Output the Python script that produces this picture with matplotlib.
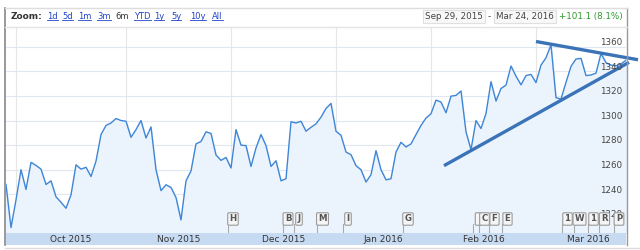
import numpy as np
import matplotlib
matplotlib.use("Agg")
import matplotlib.pyplot as plt
from matplotlib.lines import Line2D
from matplotlib.patches import Rectangle

# closing prices, one per trading day, Sep 29 2015 .. Mar 24 2016
values = [1248, 1213, 1235.5, 1260, 1244, 1266, 1263.5, 1260.5, 1248, 1251,
          1238, 1233.6, 1228.7, 1239.6, 1264, 1260.5, 1262, 1254.5, 1267, 1288.6,
          1296, 1298, 1301.6, 1300, 1299.4, 1286.4, 1292.6, 1300, 1285.8, 1294.8,
          1260, 1243, 1247.8, 1245.6, 1237.4, 1219.2, 1251, 1259, 1281, 1283,
          1290.8, 1289.5, 1272, 1267.6, 1270, 1261.4, 1292.6, 1280, 1279.6, 1262.7,
          1277.7, 1288.6, 1279.6, 1262.7, 1267.3, 1251, 1252.7, 1299, 1298, 1299.4,
          1291.3, 1294.5, 1297.3, 1302.7, 1309.8, 1313.9, 1291.3, 1288, 1274.4, 1272.2,
          1263.3, 1260, 1250, 1256, 1275.5, 1260, 1251.8, 1252.7, 1274.4, 1282.3,
          1278.5, 1281, 1288.6, 1296, 1302, 1305.5, 1316.6, 1315, 1306.3, 1319.8,
          1320.4, 1324, 1290.8, 1276.3, 1300, 1293.5, 1305.7, 1331.6, 1315.8, 1326,
          1328.8, 1344.3, 1336, 1329, 1336.5, 1337.5, 1330.8, 1345, 1351, 1361.5,
          1318.5, 1317.5, 1331, 1344, 1350, 1350.5, 1336.5, 1337, 1338.5, 1354.5,
          1347, 1345, 1344.5, 1346, 1349]

month_labels = ["Oct 2015", "Nov 2015", "Dec 2015", "Jan 2016", "Feb 2016", "Mar 2016"]
month_start = [2, 24, 45, 66, 85, 106]   # index of first trading day
yticks = [1220, 1240, 1260, 1280, 1300, 1320, 1340, 1360]

# hand drawn trend lines (index, price)
support_x = [87.6, 124.6]
support_y = [1263.3, 1347.3]
resist_x = [106, 126.4]
resist_y = [1364.2, 1349.4]

# news flags
flag_labels = ["H", "B", "J", "M", "I", "G", "", "C", "F", "E", "1", "W", "1", "R", "P"]
flag_idx = [44.3, 55.3, 57.5, 62.2, 67.3, 79.3, 93.4, 94.6, 96.6, 99.2, 111.2, 113.6, 116.4, 118.6, 121.5]

zoom_links = ["1d", "5d", "1m", "3m", "6m", "YTD", "1y", "5y", "10y", "All"]
zoom_x = [47, 62, 78, 97, 115, 134, 154, 171, 190, 212]

W, H = 640, 250
fig = plt.figure(figsize=(6.4, 2.5), dpi=100)
fig.patch.set_facecolor("white")

def fx(x):
    return x / W

def fy(y):
    return 1 - y / H

def hline(x0, x1, y, color, lw=1):
    fig.add_artist(Line2D([fx(x0), fx(x1)], [fy(y), fy(y)], color=color, lw=lw))

def vline(x, y0, y1, color, lw=1):
    fig.add_artist(Line2D([fx(x), fx(x)], [fy(y0), fy(y1)], color=color, lw=lw))

ax = fig.add_axes([fx(6), fy(233), fx(620), 206 / H])
x = np.arange(len(values))
ymin, ymax = 1208.6, 1376
ax.set_xlim(0, len(values) - 1)
ax.set_ylim(ymin, ymax)

for yt in yticks:
    ax.axhline(yt, color="#dfe7f2", lw=0.8, zorder=0)
for m in month_start:
    ax.axvline(m, color="#e6e6e6", lw=0.8, zorder=0)

ax.fill_between(x, values, ymin, color="#ebf4fd", zorder=1)
ax.plot(x, values, color="#3f86d6", lw=1.0, zorder=2)

ax.plot(support_x, support_y, color="#3b73b9", lw=2.4, solid_capstyle="butt",
        clip_on=False, zorder=4)
ax.plot(resist_x, resist_y, color="#3b73b9", lw=2.4, solid_capstyle="butt",
        clip_on=False, zorder=4)

for yt in yticks:
    ax.text(len(values) - 1.8, yt + 3.4, str(yt), ha="right", va="center",
            fontsize=6.3, color="#444444", zorder=5)

# flags
for lab, fi in zip(flag_labels, flag_idx):
    ax.plot([fi, fi], [0, 0.045], transform=ax.get_xaxis_transform(),
            color="#aaaaaa", lw=0.8, zorder=3)
    ax.text(fi + 1.1, 0.068, lab if lab else " ", transform=ax.get_xaxis_transform(),
            ha="center", va="center", fontsize=6.2, fontweight="bold", color="#555555",
            bbox=dict(boxstyle="round,pad=0.2,rounding_size=0.15", fc="#f5f5f5",
                      ec="#9a9a9a", lw=0.8), zorder=6)

for s in ax.spines.values():
    s.set_visible(False)
ax.set_xticks([])
ax.set_yticks([])

# date axis band
fig.add_artist(Rectangle((fx(6), fy(245)), fx(620), 12 / H, transform=fig.transFigure,
                         fc="#c6daf2", ec="none"))
month_end = month_start[1:] + [month_start[-1] + 21]
for lab, a, b in zip(month_labels, month_start, month_end):
    px = 6 + (a + b) / 2 * 620 / (len(values) - 1)
    fig.text(fx(px), fy(239.5), lab, ha="center", va="center", fontsize=6.5, color="#333333")

# frame
vline(5, 8, 245, "#888888", 1.2)
vline(626.5, 8, 245, "#999999", 1)
hline(5, 626.5, 8, "#dddddd")
hline(5, 626.5, 27, "#e4e4e4")
hline(5, 640, 247.5, "#dddddd")

# toolbar
fig.text(fx(11), fy(16.5), "Zoom:", fontsize=6.5, fontweight="bold", color="#333333", va="center")
links = []
for lab, lx in zip(zoom_links, zoom_x):
    c = "#333333" if lab == "6m" else "#2244cc"
    t = fig.text(fx(lx), fy(16.5), lab, fontsize=6.0, color=c, va="center")
    if lab != "6m":
        links.append(t)

fig.text(fx(454), fy(16.5), "Sep 29, 2015", fontsize=6.3, color="#444444", ha="center", va="center",
         bbox=dict(boxstyle="square,pad=0.25", fc="#f8f8f8", ec="#e0e0e0", lw=0.8))
fig.text(fx(489), fy(16.5), "-", fontsize=6.3, color="#444444", ha="center", va="center")
fig.text(fx(525), fy(16.5), "Mar 24, 2016", fontsize=6.3, color="#444444", ha="center", va="center",
         bbox=dict(boxstyle="square,pad=0.25", fc="#f8f8f8", ec="#e0e0e0", lw=0.8))
fig.text(fx(591), fy(16.5), "+101.1 (8.1%)", fontsize=6.3, color="#2e9a2e", ha="center", va="center")

fig.canvas.draw()
r = fig.canvas.get_renderer()
for t in links:
    bb = t.get_window_extent(r).transformed(fig.transFigure.inverted())
    fig.add_artist(Line2D([bb.x0, bb.x1], [bb.y0 + 0.004, bb.y0 + 0.004],
                          color="#2244cc", lw=0.6))

fig.savefig("out.png", dpi=100)
